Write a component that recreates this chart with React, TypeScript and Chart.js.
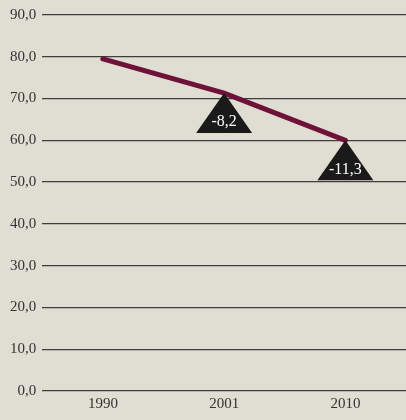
import React, { useEffect, useRef } from "react";
import { Chart, registerables } from "chart.js";

Chart.register(...registerables);

const years = ["1990", "2001", "2010"];
const values = [79.5, 71.3, 60.0];
const changes: (string | null)[] = [null, "-8,2", "-11,3"];
const yTicks = [0, 10, 20, 30, 40, 50, 60, 70, 80, 90];

const FONT = "'Liberation Serif', 'DejaVu Serif', serif";

const trianglePlugin = {
  id: "triangles",
  afterDatasetsDraw(chart: any) {
    const ctx = chart.ctx;
    const meta = chart.getDatasetMeta(0);
    ctx.save();
    changes.forEach((c, i) => {
      if (!c) return;
      const pt = meta.data[i];
      const x = pt.x;
      const y = pt.y;
      const h = 40;
      const w = 56;
      ctx.beginPath();
      ctx.moveTo(x, y);
      ctx.lineTo(x + w / 2, y + h);
      ctx.lineTo(x - w / 2, y + h);
      ctx.closePath();
      ctx.fillStyle = "#1a1a1a";
      ctx.fill();
      ctx.fillStyle = "#ffffff";
      ctx.font = `16px ${FONT}`;
      ctx.textAlign = "center";
      ctx.textBaseline = "middle";
      ctx.fillText(c, x, y + h - 11);
    });
    ctx.restore();
  },
};

export default function App() {
  const ref = useRef<HTMLCanvasElement>(null);
  useEffect(() => {
    document.body.style.margin = "0";
    const chart = new Chart(ref.current!, {
      type: "line",
      data: {
        labels: years,
        datasets: [
          {
            data: values,
            borderColor: "#6e1239",
            borderWidth: 5,
            pointRadius: 0,
            tension: 0,
            borderCapStyle: "round",
          },
        ],
      },
      options: {
        animation: false,
        responsive: false,
        layout: { padding: { top: 9, right: 0, bottom: 3, left: 4 } },
        plugins: { legend: { display: false }, tooltip: { enabled: false } },
        scales: {
          x: {
            offset: true,
            grid: { display: false, drawTicks: false },
            border: { display: false },
            ticks: { color: "#333", font: { family: FONT, size: 15 }, padding: 4 },
          },
          y: {
            min: 0,
            max: 90,
            afterBuildTicks: (axis: any) => {
              axis.ticks = yTicks.map((v) => ({ value: v }));
            },
            grid: { color: "#3e3e3e", lineWidth: 1.3, drawTicks: false },
            border: { display: false },
            ticks: {
              color: "#333",
              font: { family: FONT, size: 15 },
              padding: 6,
              callback: (v: any) => Number(v).toFixed(1).replace(".", ","),
            },
          },
        },
      },
      plugins: [trianglePlugin],
    });
    return () => chart.destroy();
  }, []);
  return (
    <div style={{ width: 406, height: 420, background: "#e0ddd3" }}>
      <canvas ref={ref} width={406} height={420} />
    </div>
  );
}
